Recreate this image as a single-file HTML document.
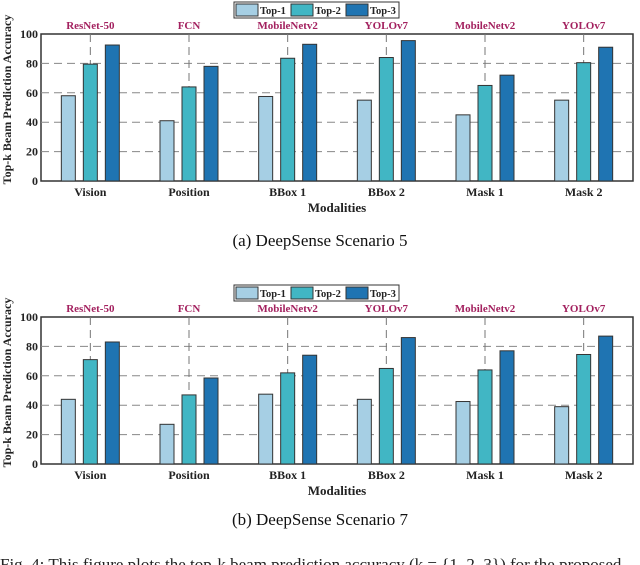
<!DOCTYPE html>
<html><head><meta charset="utf-8"><style>
body{margin:0;background:#fff;width:640px;height:565px;overflow:hidden}
svg{display:block}
svg text{font-family:"Liberation Serif",serif}
</style></head><body>
<svg id="s" width="640" height="565" font-family="Liberation Serif, serif"></svg>
<script>
const categories=["Vision","Position","BBox 1","BBox 2","Mask 1","Mask 2"];
const models=["ResNet-50","FCN","MobileNetv2","YOLOv7","MobileNetv2","YOLOv7"];
const seriesNames=["Top-1","Top-2","Top-3"];
const s5top1=[58,41,57.5,55,45,55];
const s5top2=[79.5,64,83.5,84,65,80.5];
const s5top3=[92.5,78,93,95.5,72,91];
const s7top1=[44,27,47.5,44,42.5,39];
const s7top2=[71,47,62,65,64,74.5];
const s7top3=[83,58.5,74,86,77,87];
const yTicks=[0,20,40,60,80,100];
const colors=["#a6cfe4","#41b6c4","#1f74b2"];
const NS="http://www.w3.org/2000/svg";
const svg=document.getElementById('s');
function el(tag,attrs,parent,text){const e=document.createElementNS(NS,tag);for(const k in attrs)e.setAttribute(k,attrs[k]);if(tag==='text')e.setAttribute('font-family','Liberation Serif, serif');if(text!==undefined)e.textContent=text;(parent||svg).appendChild(e);return e;}
function chart(id,y0,y100,legY,series,caption,capY){
  const g=el('g',{});
  
  
  const L=41,R=633;
  const ys=v=>y0-(y0-y100)*v/100;
  const step=(R-L)/categories.length;
  const xc=i=>L+step*(i+0.5);
  el('rect',{x:L,y:y100,width:R-L,height:y0-y100,fill:'none',stroke:'#333','stroke-width':1.5},g);
  yTicks.forEach(t=>{
    if(t>0&&t<100){const l=el('line',{x1:L,x2:R,y1:ys(t),y2:ys(t),stroke:'#888','stroke-dasharray':'8,5','stroke-width':1},g);}
    const tx=el('text',{x:L-3,y:ys(t)+4,'text-anchor':'end','font-size':12,'font-weight':'bold',fill:'#222'},g,t);
    
  });
  categories.forEach((c,i)=>{
    el('line',{x1:xc(i),x2:xc(i),y1:y100,y2:ys(Math.min(series[1][i],series[0][i]))-2,stroke:'#777','stroke-dasharray':'8,5'},g);
    const m=el('text',{x:xc(i),y:y100-5,'text-anchor':'middle','font-size':11,'font-weight':'bold',fill:'#a3215f'},g,models[i]);
    
    const cl=el('text',{x:xc(i),y:y0+15,'text-anchor':'middle','font-size':12,'font-weight':'bold',fill:'#222'},g,c);
    
    series.forEach((ser,k)=>{
      const bx=xc(i)+(k-1)*22-7;
      const b=el('rect',{x:bx,y:ys(ser[i]),width:14,height:y0-ys(ser[i]),fill:colors[k],stroke:'#333','stroke-width':1},g);
      
      
    });
  });
  const xt=el('text',{x:(L+R)/2,y:y0+31,'text-anchor':'middle','font-size':13,'font-weight':'bold',fill:'#222'},g,'Modalities');
  
  const yt=el('text',{x:0,y:0,'text-anchor':'middle','font-size':12,'font-weight':'bold',fill:'#222',transform:`translate(11,${(y0+y100)/2-8}) rotate(-90)`},g,'Top-k Beam Prediction Accuracy');
  
  const lg=el('g',{},g);
  
  el('rect',{x:234,y:legY,width:165,height:16,fill:'#fff',stroke:'#333'},lg);
  seriesNames.forEach((n,k)=>{
    const x0=236+k*55;
    el('rect',{x:x0,y:legY+2,width:22,height:12,fill:colors[k],stroke:'#333'},lg);
    const t=el('text',{x:x0+24,y:legY+12,'font-size':10.5,'font-weight':'bold',fill:'#222'},lg,n);
    
  });
  const cp=el('text',{x:320,y:capY,'text-anchor':'middle','font-size':17,fill:'#111'},g,caption);
  
}
chart('chart-scenario-5',181,34,2,[s5top1,s5top2,s5top3],'(a)  DeepSense Scenario 5',246);
chart('chart-scenario-7',464,317,285,[s7top1,s7top2,s7top3],'(b)  DeepSense Scenario 7',525);
const ft=el('text',{x:0,y:570,'font-size':17,fill:'#222'},svg,'Fig. 4:  This figure plots the top-k beam prediction accuracy (k = {1, 2, 3}) for the proposed');

</script>
</body></html>
